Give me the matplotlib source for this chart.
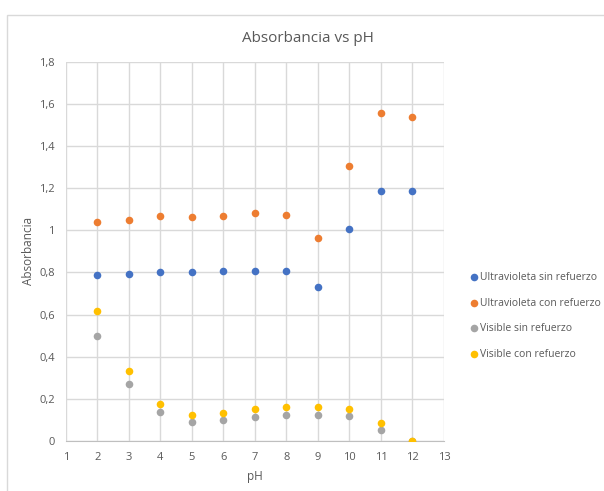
import numpy as np
import matplotlib.pyplot as plt
from matplotlib.patches import Rectangle

plt.rcParams['font.family'] = ['Open Sans', 'DejaVu Sans']

# Datos: pH y absorbancia de cada serie
ph = np.array([2, 3, 4, 5, 6, 7, 8, 9, 10, 11, 12])
uv_sin = np.array([0.789, 0.795, 0.803, 0.803, 0.809, 0.809, 0.809, 0.730, 1.008, 1.188, 1.185])
uv_con = np.array([1.041, 1.049, 1.066, 1.063, 1.070, 1.081, 1.073, 0.965, 1.306, 1.557, 1.538])
vis_sin = np.array([0.500, 0.271, 0.136, 0.092, 0.101, 0.112, 0.121, 0.121, 0.118, 0.052, 0.0])
vis_con = np.array([0.615, 0.333, 0.174, 0.121, 0.131, 0.153, 0.162, 0.162, 0.153, 0.087, 0.0])

series = [
    ("Ultravioleta sin refuerzo", uv_sin, "#4472C4"),
    ("Ultravioleta con refuerzo", uv_con, "#ED7D31"),
    ("Visible sin refuerzo", vis_sin, "#A5A5A5"),
    ("Visible con refuerzo", vis_con, "#FFC000"),
]

fig = plt.figure(figsize=(6.04, 4.91), dpi=100)
# marco del gráfico
fig.patches.append(Rectangle((7 / 604, -0.1), 1.2, 1 - 15 / 491 + 0.1,
                             transform=fig.transFigure, fill=False,
                             edgecolor="#D9D9D9", linewidth=1))

ax = fig.add_axes([0.109, 0.102, 0.626, 0.772])
for nombre, vals, color in series:
    ax.scatter(ph, vals, s=30, color=color, label=nombre, zorder=3, linewidths=0)

ax.set_xlim(1, 13)
ax.set_ylim(0, 1.8)
ax.set_xticks(np.arange(1, 14))
yt = np.arange(0, 1.81, 0.2)
ax.set_yticks(yt)
ax.set_yticklabels(["0", "0,2", "0,4", "0,6", "0,8", "1", "1,2", "1,4", "1,6", "1,8"])
ax.grid(True, color="#D9D9D9", linewidth=1)
ax.set_axisbelow(True)
for s in ["top", "right", "left"]:
    ax.spines[s].set_visible(False)
ax.spines["bottom"].set_color("#BFBFBF")
ax.tick_params(length=0, colors="#595959", labelsize=8, pad=8)

fig.text(308 / 604, 1 - 38 / 491, "Absorbancia vs pH", color="#595959",
         fontsize=11, ha="center", va="center")
ax.set_xlabel("pH", color="#595959", fontsize=8.5, labelpad=5)
ax.set_ylabel("Absorbancia", color="#595959", fontsize=8.5, labelpad=3)

leg = ax.legend(loc="center left", bbox_to_anchor=(1.04, 0.33), frameon=False,
                fontsize=7.5, handletextpad=0.1, labelspacing=1.4,
                markerscale=1.0, handlelength=1.0)
for t in leg.get_texts():
    t.set_color("#595959")

fig.savefig("out.png", dpi=100)
